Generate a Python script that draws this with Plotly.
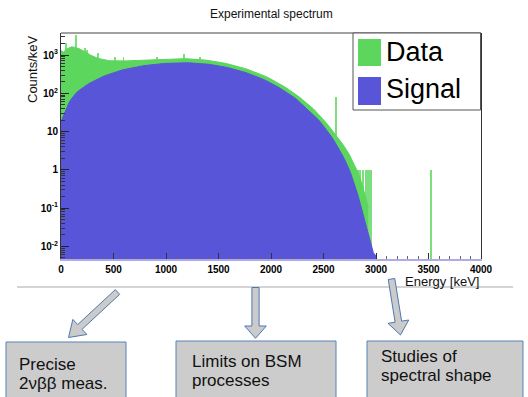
import math
import plotly.graph_objects as go

# ---------------------------------------------------------------------------
# Spectrum data: counts/keV sampled every 25 keV starting at 0 keV
# ---------------------------------------------------------------------------
STEP_KEV = 25

signal_counts = [
    18, 26, 40, 56, 72, 90, 106, 120, 136, 152,
    168, 185, 202, 220, 238, 256, 274, 292, 310, 328,
    346, 364, 382, 400, 416, 432, 448, 463, 478, 492,
    506, 519, 531, 543, 554, 564, 574, 583, 591, 598,
    605, 611, 616, 620, 623, 625, 626, 626, 625, 623,
    619, 614, 608, 601, 593, 584, 574, 563, 551, 538,
    524, 509, 493, 477, 460, 443, 426, 408, 390, 372,
    354, 336, 318, 300, 283, 266, 249, 232, 216, 200,
    184, 170, 155, 142, 128, 116, 104, 93, 85, 76,
    67, 58, 50, 44, 38, 33, 29, 24.5, 20.5, 17,
    14, 11.5, 9.3, 7.4, 5.8, 4.5, 3.4, 2.55, 1.9, 1.4,
    0.95, 0.6, 0.38, 0.23, 0.13, 0.072, 0.04, 0.02, 0.011, 0.0068,
    0.0056,
]

data_counts = [
    1300, 1180, 1420, 1560, 1640, 1600, 1530, 1450, 1330, 1240,
    1130, 1010, 930, 870, 820, 790, 755, 735, 718, 705,
    700, 694, 690, 693, 697, 702, 708, 712, 718, 724,
    730, 736, 742, 748, 753, 758, 770, 778, 785, 790,
    795, 799, 802, 804, 805, 805, 804, 801, 797, 792,
    786, 778, 769, 759, 748, 736, 723, 709, 694, 678,
    661, 640, 618, 598, 577, 556, 534, 512, 490, 468,
    446, 424, 401, 379, 358, 337, 316, 295, 275, 256,
    236, 218, 200, 183, 166, 150, 136, 122, 111, 100,
    89, 78, 68, 60, 52, 46, 40, 34, 29, 24.5,
    20.5, 17, 14, 11.5, 9.5, 7.8, 6.2, 5.0, 4.0, 3.1,
    2.4, 1.7, 1.25, 0.9, 0.6, 0.35, 0.2, 0.1, 0, 0,
    0,
]

# Narrow lines and single-count bins in the measured spectrum
line_energy = [50, 143, 229, 248, 356, 516, 595, 913, 1168, 1327, 2616,
               2826, 2845, 2874, 2902, 2921, 2940, 2950, 3523]
line_counts = [2020, 3320, 1520, 1350, 1100, 900, 890, 900, 1040, 880, 80,
               1.0, 1.0, 1.0, 1.0, 1.0, 1.0, 1.0, 1.0]

x_ticks = [0, 500, 1000, 1500, 2000, 2500, 3000, 3500, 4000]
y_ticks = [0.01, 0.1, 1, 10, 100, 1000]
y_tick_text = ["10<sup>-2</sup>", "10<sup>-1</sup>", "1", "10",
               "10<sup>2</sup>", "10<sup>3</sup>"]

series_names = ["Data", "Signal"]

GREEN = "#5cd65c"
BLUE = "#5855d8"
FONT = "Liberation Sans, Arial, sans-serif"

W, H = 528, 397
PLOT_L, PLOT_R, PLOT_T, PLOT_B = 61, 481, 33, 259


def px(x):
    return (x - PLOT_L) / (PLOT_R - PLOT_L)


def py(y):
    return (PLOT_B - y) / (PLOT_B - PLOT_T)


def samples(values):
    xs, ys = [], []
    for i, v in enumerate(values):
        if v > 0:
            xs.append(i * STEP_KEV)
            ys.append(v)
    return xs, ys


fig = go.Figure()

dx, dy = samples(data_counts)
fig.add_scatter(x=dx, y=dy, mode="lines", fill="tozeroy", name=series_names[0],
                line=dict(color=GREEN, width=1), fillcolor=GREEN)
fig.add_bar(x=line_energy, y=line_counts, width=9, name=series_names[0],
            marker=dict(color=GREEN, line_width=0), opacity=0.8)
sx, sy = samples(signal_counts)
fig.add_scatter(x=sx, y=sy, mode="lines", fill="tozeroy", name=series_names[1],
                line=dict(color=BLUE, width=1), fillcolor=BLUE)

minor_y = [m * 10 ** e for e in range(-3, 4) for m in range(2, 10)]

fig.update_layout(
    width=W, height=H,
    margin=dict(l=PLOT_L, r=W - PLOT_R, t=PLOT_T, b=H - PLOT_B, pad=0),
    paper_bgcolor="white", plot_bgcolor="white",
    barmode="overlay", bargap=0, showlegend=False,
    font=dict(family=FONT, color="black"),
    xaxis=dict(
        range=[0, 4000], tickvals=x_ticks, ticks="inside", ticklen=6,
        tickcolor="#333", tickwidth=1,
        tickfont=dict(size=10, weight="bold", family=FONT),
        minor=dict(dtick=100, ticks="inside", ticklen=3, tickcolor="#666"),
        showline=True, linecolor="#aeaaea", linewidth=2,
        showgrid=False, zeroline=False,
    ),
    yaxis=dict(
        type="log", range=[-2.33, 3.575], tickvals=y_ticks, ticktext=y_tick_text,
        ticks="inside", ticklen=8, tickcolor="#222", tickwidth=1,
        tickfont=dict(size=10, weight="bold", family=FONT),
        minor=dict(tickvals=minor_y, ticks="inside", ticklen=4, tickcolor="#333"),
        showline=True, linecolor="#333", linewidth=1, mirror=True,
        showgrid=False, zeroline=False,
    ),
)

shapes = []
annotations = []

# frame top
shapes.append(dict(type="line", xref="paper", yref="paper", x0=0, x1=1, y0=1, y1=1,
                   line=dict(color="#444", width=1)))

# legend box
shapes.append(dict(type="rect", xref="paper", yref="paper",
                   x0=px(353), x1=px(480.5), y0=py(110), y1=py(33),
                   line=dict(color="#555", width=1), fillcolor="white", layer="above"))
for (y0, y1, col, label, ty) in [(39, 66, GREEN, series_names[0], 52.5),
                                 (77, 105, BLUE, series_names[1], 89)]:
    shapes.append(dict(type="rect", xref="paper", yref="paper",
                       x0=px(358), x1=px(381), y0=py(y1), y1=py(y0),
                       line=dict(width=0), fillcolor=col, layer="above"))
    annotations.append(dict(text=label, xref="paper", yref="paper",
                            x=px(384), y=py(ty), xanchor="left", yanchor="middle",
                            showarrow=False, font=dict(size=27, family=FONT, color="black")))

# titles
annotations.append(dict(text="Experimental spectrum", xref="paper", yref="paper",
                        x=px(271), y=py(14), xanchor="center", yanchor="middle",
                        showarrow=False, font=dict(size=12, family=FONT, color="#111")))
annotations.append(dict(text="Counts/keV", xref="paper", yref="paper",
                        x=px(32), y=py(33), xanchor="center", yanchor="top",
                        textangle=-90, showarrow=False,
                        font=dict(size=13, family=FONT, color="#111")))
annotations.append(dict(text="Energy [keV]", xref="paper", yref="paper",
                        x=px(481), y=py(281), xanchor="right", yanchor="middle",
                        showarrow=False, font=dict(size=13, family=FONT, color="#111")))

# separator below the chart
shapes.append(dict(type="line", xref="paper", yref="paper",
                   x0=px(17), x1=px(513), y0=py(287), y1=py(287),
                   line=dict(color="#c6c6c6", width=1.5)))


def arrow_path(tail, tip, shaft_half, head_half, head_len):
    (x0, y0), (x1, y1) = tail, tip
    L = math.hypot(x1 - x0, y1 - y0)
    ux, uy = (x1 - x0) / L, (y1 - y0) / L
    nx, ny = -uy, ux
    bx, by = x1 - ux * head_len, y1 - uy * head_len
    pts = [(x0 + nx * shaft_half, y0 + ny * shaft_half),
           (bx + nx * shaft_half, by + ny * shaft_half),
           (bx + nx * head_half, by + ny * head_half),
           (x1, y1),
           (bx - nx * head_half, by - ny * head_half),
           (bx - nx * shaft_half, by - ny * shaft_half),
           (x0 - nx * shaft_half, y0 - ny * shaft_half)]
    return "M " + " L ".join(f"{px(x):.5f},{py(y):.5f}" for x, y in pts) + " Z"


ARROW_FILL = "#cbcbcb"
ARROW_EDGE = "#4f78b0"
for tail, tip, sh, hh, hl in [((117.5, 292), (68.5, 337.5), 3.2, 10.3, 15.5),
                              ((255.5, 287.5), (255.5, 338.3), 3.6, 10.8, 12.3),
                              ((391.5, 279), (400.5, 335), 3.3, 10.5, 13.5)]:
    shapes.append(dict(type="path", xref="paper", yref="paper",
                       path=arrow_path(tail, tip, sh, hh, hl),
                       fillcolor=ARROW_FILL, line=dict(color=ARROW_EDGE, width=1)))

# outcome boxes
boxes = [
    ((6, 126, 342), [("Precise", 17, 364.5), ("2νββ meas.", 17, 383)]),
    ((176, 336, 341), [("Limits on BSM", 190, 361), ("processes", 190, 380)]),
    ((367, 523, 341), [("Studies of", 379, 356.5), ("spectral shape", 379, 375.5)]),
]
for (bx0, bx1, by0), lines in boxes:
    shapes.append(dict(type="rect", xref="paper", yref="paper",
                       x0=px(bx0), x1=px(bx1), y0=py(430), y1=py(by0),
                       fillcolor="#cccccc", line=dict(color="#5a80b8", width=1)))
    for text, tx, ty in lines:
        annotations.append(dict(text=text, xref="paper", yref="paper",
                                x=px(tx), y=py(ty), xanchor="left", yanchor="middle",
                                showarrow=False,
                                font=dict(size=17, family=FONT, color="#111")))

fig.update_layout(shapes=shapes, annotations=annotations)
fig.write_html("out.html")
